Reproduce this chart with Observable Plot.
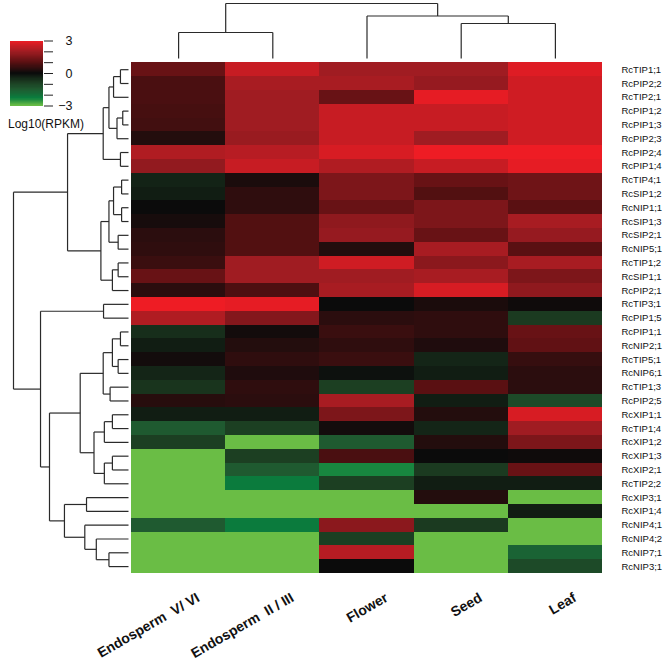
<!DOCTYPE html>
<html><head><meta charset="utf-8">
<script src="https://cdn.jsdelivr.net/npm/d3@7"></script>
<script src="https://cdn.jsdelivr.net/npm/@observablehq/plot@0.6"></script>
<style>
body{margin:0;background:#fff;}
#wrap{position:relative;width:665px;height:660px;overflow:hidden;background:#fff;}
#wrap svg{position:absolute;left:0;top:0;background:transparent;}
#ltitle{position:absolute;left:8px;top:117px;font:12px "Liberation Sans",Arial,sans-serif;color:#111;}
</style></head><body><div id="wrap"><div id="ltitle">Log10(RPKM)</div></div>
<script>
const samples = ["Endosperm V/VI","Endosperm II/III","Flower","Seed","Leaf"];
const sampleLabels = ["Endosperm\u00a0\u00a0V/\u00a0VI","Endosperm\u00a0\u00a0II\u00a0/\u00a0III","Flower","Seed","Leaf"];
const genes = ["RcTIP1;1","RcPIP2;2","RcTIP2;1","RcPIP1;2","RcPIP1;3","RcPIP2;3","RcPIP2;4","RcPIP1;4","RcTIP4;1","RcSIP1;2","RcNIP1;1","RcSIP1;3","RcSIP2;1","RcNIP5;1","RcTIP1;2","RcSIP1;1","RcPIP2;1","RcTIP3;1","RcPIP1;5","RcPIP1;1","RcNIP2;1","RcTIP5;1","RcNIP6;1","RcTIP1;3","RcPIP2;5","RcXIP1;1","RcTIP1;4","RcXIP1;2","RcXIP1;3","RcXIP2;1","RcTIP2;2","RcXIP3;1","RcXIP1;4","RcNIP4;1","RcNIP4;2","RcNIP7;1","RcNIP3;1"];
const endoVVI = [1.2,0.8,0.8,0.75,0.7,0.3,2.2,1.8, -0.4,-0.3,0.0,0.15,0.4,0.45,0.6,1.2,0.4, 3.0,2.2,-0.6,-0.3, 0.1,-0.45,-0.7,0.35,-0.3,-1.5,-0.9,-3,-3,-3, -3,-3,-1.5,-3,-3,-3];
const endoIIIII = [2.5,2.1,2.0,2.0,2.0,1.9,2.3,2.5, 0.2,0.45,0.45,0.9,0.9,0.9,2.0,2.0,0.85, 2.9,1.6,0.1,0.3, 0.45,0.25,0.45,0.4,-0.3,-0.9,-3,-0.9,-1.5,-2.25, -3,-3,-2.25,-3,-3,-3];
const flower = [2.0,2.1,1.2,2.5,2.5,2.5,2.7,2.2, 1.5,1.5,1.2,1.75,1.85,0.3,2.6,2.0,2.1, 0.0,0.4,0.6,0.45, 0.6,-0.1,-0.9,2.1,1.5,0.1,-1.5,0.8,-2.4,-0.9, -3,-3,1.7,-0.9,2.3,0.0];
const seed = [2.0,1.85,2.9,2.5,2.5,2.0,3.0,2.5, 1.2,0.9,1.5,1.5,1.2,2.1,1.7,2.1,2.7, 0.2,0.45,0.45,0.25, -0.45,-0.3,1.0,-0.3,0.3,-0.45,0.3,0.0,-0.8,-0.3, 0.3,-3,-0.8,-3,-3,-3];
const leaf = [2.8,2.6,2.6,2.6,2.6,2.6,3.0,2.9, 1.3,1.3,1.0,2.1,1.85,1.0,2.1,1.5,1.75, 0.05,-0.8,1.2,1.1, 0.55,0.4,0.4,-1.15,2.7,2.0,1.5,0.05,1.2,-0.3, -3,-0.3,-3,-3,-1.7,-1.15];
const colorStops = [-3,-2.3,-1.5,-0.8,0,1,2,3];
const colorRange = ["#6abd45","#0a7d3e","#1f5a30","#1b3a20","#0b0b0b","#5a1012","#a01c22","#ee1c24"];
const legendTicks = [-3,-2,-1,0,1,2,3];
const legendLabelVals = [3,0,-3];
const legendLabelText = ["3","0","\u22123"];
// column dendrogram: [node, childA, childB, height]
const colMerges = [
  ["c1","Seed","Leaf",0.636],
  ["c2","Endosperm V/VI","Endosperm II/III",0.473],
  ["c3","Flower","c1",0.773],
  ["c4","c2","c3",1.0]
];
// row dendrogram: [node, childA, childB, height]
const rowMerges = [
  ["n1","RcTIP1;1","RcPIP2;2",0.07],
  ["n2","n1","RcTIP2;1",0.13],
  ["n3","RcPIP1;2","RcPIP1;3",0.05],
  ["n4","n3","RcPIP2;3",0.10],
  ["n5","n2","n4",0.17],
  ["n6","RcPIP2;4","RcPIP1;4",0.07],
  ["n7","n5","n6",0.22],
  ["m1","RcTIP4;1","RcSIP1;2",0.06],
  ["m2","RcNIP1;1","RcSIP1;3",0.06],
  ["m3","m1","m2",0.13],
  ["m4","RcSIP2;1","RcNIP5;1",0.09],
  ["m5","m3","m4",0.17],
  ["m6","RcTIP1;2","RcSIP1;1",0.09],
  ["m7","m6","RcPIP2;1",0.14],
  ["m8","m5","m7",0.24],
  ["t1","n7","m8",0.53],
  ["p1","RcTIP3;1","RcPIP1;5",0.217],
  ["b1","RcPIP1;1","RcNIP2;1",0.07],
  ["b2","RcTIP5;1","RcNIP6;1",0.09],
  ["b3","b1","b2",0.14],
  ["b4","RcTIP1;3","RcPIP2;5",0.16],
  ["b5","b3","b4",0.22],
  ["b6","RcXIP1;1","RcTIP1;4",0.14],
  ["b7","b6","RcXIP1;2",0.21],
  ["b8","RcXIP1;3","RcXIP2;1",0.14],
  ["b9","b8","RcTIP2;2",0.21],
  ["b10","b7","b9",0.30],
  ["b11","b5","b10",0.42],
  ["A","RcXIP3;1","RcXIP1;4",0.365],
  ["B","RcNIP7;1","RcNIP3;1",0.17],
  ["C","RcNIP4;2","B",0.28],
  ["D","RcNIP4;1","C",0.38],
  ["E","A","D",0.557],
  ["Q","b11","E",0.687],
  ["W","p1","Q",0.765],
  ["root","t1","W",1.0]
];

const series = [endoVVI, endoIIIII, flower, seed, leaf];
const cells = [];
genes.forEach((g,i)=>samples.forEach((s,j)=>cells.push({gene:g, sample:s, value:series[j][i]})));

function dendroSegments(leaves, merges){
  const pos = new Map(leaves.map((l,i)=>[l,{p:i+0.5,h:0}]));
  const segs = [];
  for (const [id,a,b,h] of merges){
    const A = pos.get(a), B = pos.get(b);
    segs.push({p1:A.p,h1:A.h,p2:A.p,h2:h});
    segs.push({p1:A.p,h1:h,p2:B.p,h2:h});
    segs.push({p1:B.p,h1:h,p2:B.p,h2:B.h});
    pos.set(id,{p:(A.p+B.p)/2,h});
  }
  return segs;
}

const font = "'Liberation Sans', Arial, sans-serif";
const colorScale = {type:"linear", domain:colorStops, range:colorRange, clamp:true, interpolate:"rgb"};
const wrap = document.getElementById("wrap");

// heatmap
const heat = Plot.plot({
  width:665, height:660,
  marginLeft:131, marginRight:63, marginTop:62.3, marginBottom:87,
  style:{fontFamily:font, background:"transparent"},
  x:{domain:samples, padding:0, round:false, axis:null},
  y:{domain:genes, padding:0, round:false, axis:null},
  color:colorScale,
  marks:[
    Plot.cell(cells,{x:"sample", y:"gene", fill:"value", inset:0, shapeRendering:"crispEdges"}),
    Plot.axisY({anchor:"right", tickSize:0, tickPadding:19, fontSize:9.5, fill:"#111", label:null}),
    Plot.text(samples,{x:d=>d, text:(d,i)=>sampleLabels[i], frameAnchor:"bottom", rotate:-30,
      textAnchor:"end", lineAnchor:"bottom", dx:22, dy:27, fontSize:14, fontWeight:"bold", fill:"#111"})
  ]
});
wrap.appendChild(heat);

// column dendrogram
const colSegs = dendroSegments(samples, colMerges);
const colDen = Plot.plot({
  width:665, height:660, margin:0,
  style:{background:"transparent"},
  x:{domain:[0,samples.length], range:[131,602], axis:null},
  y:{domain:[0,1], range:[58,3], axis:null},
  marks:[Plot.link(colSegs,{x1:"p1",y1:"h1",x2:"p2",y2:"h2", stroke:"#2a2a2a", strokeWidth:1.2})]
});
wrap.appendChild(colDen);

// row dendrogram
const rowSegs = dendroSegments(genes, rowMerges);
const rowDen = Plot.plot({
  width:665, height:660, margin:0,
  style:{background:"transparent"},
  x:{domain:[0,1], range:[128,13], axis:null},
  y:{domain:[0,genes.length], range:[62.3,573], axis:null},
  marks:[Plot.link(rowSegs,{x1:"h1",y1:"p1",x2:"h2",y2:"p2", stroke:"#2a2a2a", strokeWidth:1.2})]
});
wrap.appendChild(rowDen);

// legend
const steps = d3.range(-3,3,0.05);
const legend = Plot.plot({
  width:90, height:140,
  marginLeft:9.5, marginRight:47, marginTop:40.5, marginBottom:34.5,
  style:{fontFamily:font, background:"transparent"},
  x:{domain:[0,1], axis:null},
  y:{domain:[-3,3], axis:null},
  color:colorScale,
  marks:[
    Plot.rect(steps,{x1:0, x2:1, y1:d=>d, y2:d=>d+0.05, fill:d=>d+0.025, shapeRendering:"crispEdges"}),
    Plot.axisY(legendTicks,{anchor:"right", tickSize:9, tickFormat:()=>"", stroke:"#222"}),
    Plot.text(legendLabelVals,{y:d=>d, text:(d,i)=>legendLabelText[i], frameAnchor:"right", dx:29, textAnchor:"end", fontSize:12.5, fill:"#111"})
  ]
});
wrap.appendChild(legend);
</script></body></html>
